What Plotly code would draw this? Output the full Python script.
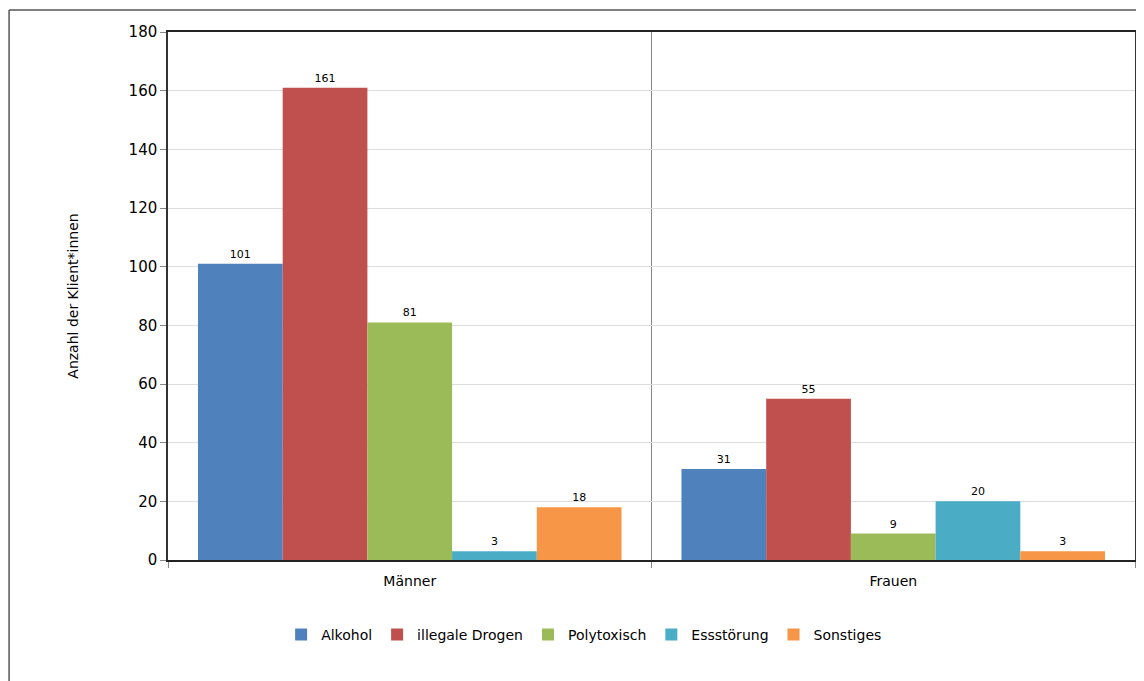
import plotly.graph_objects as go

categories = ["Männer", "Frauen"]
series_names = ["Alkohol", "illegale Drogen", "Polytoxisch", "Essstörung", "Sonstiges"]
values = {
    "Alkohol": [101, 31],
    "illegale Drogen": [161, 55],
    "Polytoxisch": [81, 9],
    "Essstörung": [3, 20],
    "Sonstiges": [18, 3],
}
colors = ["#4F81BD", "#C0504D", "#9BBB59", "#4BACC6", "#F79646"]
y_ticks = [0, 20, 40, 60, 80, 100, 120, 140, 160, 180]

FONT = "DejaVu Sans"

fig = go.Figure()
for name, col in zip(series_names, colors):
    fig.add_trace(go.Bar(
        name=name, x=categories, y=values[name],
        marker=dict(color=col, line=dict(width=0)),
        text=values[name], textposition="outside",
        textfont=dict(family=FONT, size=11, color="#000000"),
        cliponaxis=False,
    ))

# page body has an 8px margin; figure is placed at (8, 8) in the window
W, H = 1136, 673
L, R, T, B = 160, 7, 24, 121
pw, ph = W - L - R, H - T - B

fig.update_layout(
    width=W, height=H,
    margin=dict(l=L, r=R, t=T, b=B),
    barmode="group", bargap=0.124, bargroupgap=0,
    plot_bgcolor="white", paper_bgcolor="white",
    font=dict(family=FONT, size=14, color="#000000"),
    showlegend=True,
    legend=dict(orientation="h", x=(577 - L) / pw, xanchor="center",
                y=(T + ph - 627) / ph, yanchor="middle",
                font=dict(family=FONT, size=14, color="#000000"),
                itemwidth=30, traceorder="normal"),
    xaxis=dict(
        tickson="boundaries", ticks="outside", ticklen=6, tickcolor="#888888",
        showgrid=True, gridcolor="#888888", gridwidth=1,
        showline=True, linecolor="#222222", linewidth=1.5, mirror=True,
        tickfont=dict(family=FONT, size=14, color="#000000"),
        ticklabelstandoff=7,
    ),
    yaxis=dict(
        range=[0, 180], tickvals=y_ticks, ticks="outside", ticklen=6, tickcolor="#888888",
        showgrid=True, gridcolor="#DDDDDD", gridwidth=1,
        showline=True, linecolor="#333333", linewidth=1.5, mirror=True,
        tickfont=dict(family=FONT, size=15, color="#000000"),
        title=dict(text="Anzahl der Klient*innen", standoff=47,
                   font=dict(family=FONT, size=14, color="#000000")),
        zeroline=False,
    ),
)

# outer chart frame (left and top edges)
x_left = (0.75 - L) / pw
y_top = 1 + (T - 2) / ph
fig.add_shape(type="line", xref="paper", yref="paper", x0=x_left, x1=x_left,
              y0=y_top, y1=-(B + 5) / ph, line=dict(color="#555555", width=1.5))
fig.add_shape(type="line", xref="paper", yref="paper", x0=x_left, x1=1 + 7 / pw,
              y0=y_top, y1=y_top, line=dict(color="#555555", width=1.5))

fig.write_html("out.html")
